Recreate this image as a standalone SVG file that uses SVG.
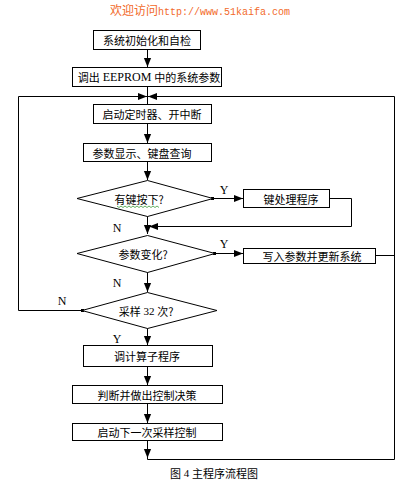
<svg xmlns="http://www.w3.org/2000/svg" width="403" height="487" viewBox="0 0 403 487">
<defs>
<style>
.box{fill:#fff;stroke:#000;stroke-width:1}
.t{font-family:"Noto Sans CJK SC","Liberation Serif",sans-serif;font-size:11px;fill:#000;text-anchor:middle;dominant-baseline:central}
.yn{font-family:"Liberation Serif",serif;font-size:12px;fill:#000;text-anchor:middle;dominant-baseline:central}
.c{fill:none;stroke:#000;stroke-width:1}
</style>
<marker id="ah" viewBox="0 0 10 10" refX="10" refY="5" markerWidth="9" markerHeight="9" markerUnits="userSpaceOnUse" orient="auto">
<path d="M0,1 L10,5 L0,9 z" fill="#000"/>
</marker>
</defs>
<rect width="403" height="487" fill="#fff"/>
<text x="200" y="15" font-size="12" fill="#f26a2a" text-anchor="middle"><tspan font-family="Noto Sans CJK SC,sans-serif">欢迎访问</tspan><tspan font-family="Liberation Mono,monospace" font-size="10">http://www.51kaifa.com</tspan></text>

<g id="connectors">
<path class="c" d="M147.5,49 V67" marker-end="url(#ah)"/>
<path class="c" d="M147.5,86 V104"/>
<path class="c" d="M147.5,123 V143" marker-end="url(#ah)"/>
<path class="c" d="M147.5,161 V180" marker-end="url(#ah)"/>
<path class="c" d="M213,198.5 H243" marker-end="url(#ah)"/>
<path class="c" d="M329,198.5 H351.5 V226.5 H149" marker-end="url(#ah)"/>
<path class="c" d="M147.5,216 V234" marker-end="url(#ah)"/>
<path class="c" d="M215,253.5 H243" marker-end="url(#ah)"/>
<path class="c" d="M375,255.5 H394.5"/>
<path class="c" d="M147.5,272 V292" marker-end="url(#ah)"/>
<path class="c" d="M82,310.5 H18.5 V96.5 H147" marker-end="url(#ah)"/>
<path class="c" d="M147.5,328 V345" marker-end="url(#ah)"/>
<path class="c" d="M147.5,366 V385" marker-end="url(#ah)"/>
<path class="c" d="M147.5,403 V423" marker-end="url(#ah)"/>
<path class="c" d="M147.5,440 V459.5 H394.5 V96.5 H148" marker-end="url(#ah)"/>
<path class="c" d="M147.5,440 V458" marker-end="url(#ah)"/>
<rect x="211" y="197" width="3" height="3" fill="#000"/>
<rect x="213" y="252" width="3" height="3" fill="#000"/>
<rect x="81" y="309" width="3" height="3" fill="#000"/>
<text class="yn" x="224" y="190">Y</text>
<text class="yn" x="224" y="244">Y</text>
<text class="yn" x="117" y="228">N</text>
<text class="yn" x="117" y="283">N</text>
<text class="yn" x="62" y="301">N</text>
<text class="yn" x="117" y="339">Y</text>
</g>

<g id="n1"><rect class="box" x="93.5" y="30.5" width="107" height="19"/><text class="t" x="147" y="40">系统初始化和自检</text></g>
<g id="n2"><rect class="box" x="72.5" y="67.5" width="149" height="19"/><text class="t" x="149" y="77">调出<tspan font-family="Liberation Serif,serif" font-size="12"> EEPROM </tspan>中的系统参数</text></g>
<g id="n3"><rect class="box" x="93.5" y="104.5" width="118" height="19"/><text class="t" x="152" y="114">启动定时器、开中断</text></g>
<g id="n4"><rect class="box" x="83.5" y="143.5" width="128" height="18"/><text class="t" x="142" y="152.5">参数显示、键盘查询</text></g>
<g id="d1"><polygon class="box" points="147.5,180.5 213,198.5 147.5,216.5 77,198.5"/><text class="t" x="139" y="198.5">有键按下?</text>
<path d="M117,206 l2,1.5 l2,-1.5 l2,1.5 l2,-1.5 l2,1.5 l2,-1.5 l2,1.5 l2,-1.5 l2,1.5 l2,-1.5 l2,1.5 l2,-1.5 l2,1.5 l2,-1.5 l2,1.5 l2,-1.5 l2,1.5 l2,-1.5 l2,1.5 l2,-1.5 l2,1.5" fill="none" stroke="#3a9a3a" stroke-width="0.8"/></g>
<g id="n5"><rect class="box" x="243.5" y="189.5" width="86" height="18"/><text class="t" x="291" y="198.5">键处理程序</text></g>
<g id="d2"><polygon class="box" points="147.5,235.5 215,253.5 147.5,272.5 77,253.5"/><text class="t" x="143" y="253.5">参数变化?</text></g>
<g id="n6"><rect class="box" x="243.5" y="248.5" width="132" height="15"/><text class="t" x="312" y="256">写入参数并更新系统</text></g>
<g id="d3"><polygon class="box" points="147.5,292.5 217,310.5 147.5,328.5 82,310.5"/><text class="t" x="146" y="310.5">采样<tspan font-family="Liberation Serif,serif"> 32 </tspan>次?</text></g>
<g id="n7"><rect class="box" x="83.5" y="345.5" width="129" height="21"/><text class="t" x="147" y="356">调计算子程序</text></g>
<g id="n8"><rect class="box" x="72.5" y="385.5" width="150" height="18"/><text class="t" x="147" y="394.5">判断并做出控制决策</text></g>
<g id="n9"><rect class="box" x="72.5" y="423.5" width="150" height="17"/><text class="t" x="147" y="432">启动下一次采样控制</text></g>

<text class="t" x="214" y="473">图<tspan font-family="Liberation Serif,serif"> 4 </tspan>主程序流程图</text>
</svg>
